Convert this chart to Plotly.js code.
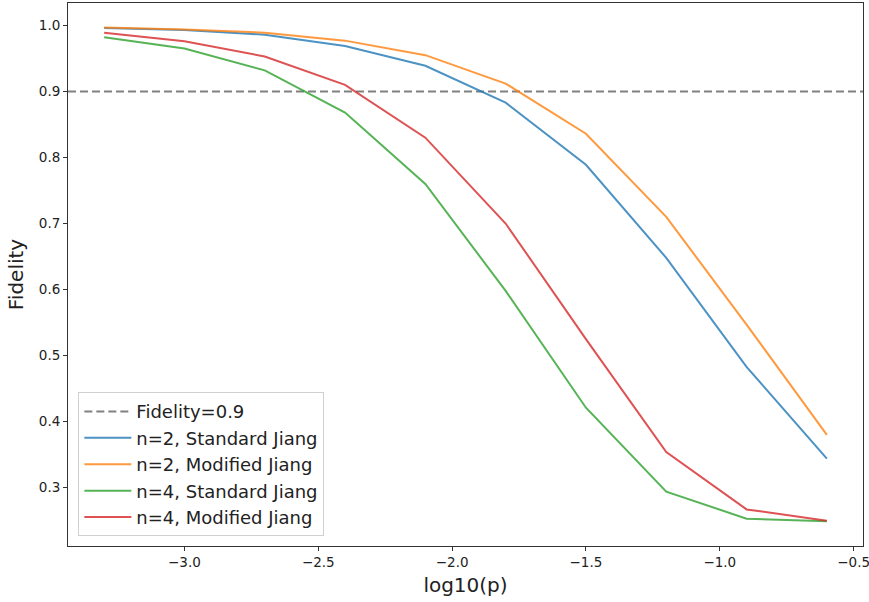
<!DOCTYPE html>
<html>
<head>
<meta charset="utf-8">
<script src="https://cdn.plot.ly/plotly-3.0.1.min.js"></script>
<style>html,body{margin:0;padding:0;background:#fff;}#chart{width:869px;height:602px;}</style>
</head>
<body>
<div id="chart"></div>
<script>
const log10p = [-3.3, -3.0, -2.7, -2.4, -2.1, -1.8, -1.5, -1.2, -0.9, -0.6];
const n2Standard = [0.996, 0.993, 0.986, 0.969, 0.939, 0.883, 0.789, 0.648, 0.483, 0.344];
const n2Modified = [0.997, 0.994, 0.989, 0.977, 0.955, 0.912, 0.836, 0.710, 0.547, 0.380];
const n4Standard = [0.982, 0.965, 0.932, 0.868, 0.760, 0.598, 0.421, 0.294, 0.253, 0.249];
const n4Modified = [0.989, 0.976, 0.953, 0.910, 0.830, 0.700, 0.525, 0.354, 0.267, 0.250];
const threshold = 0.9;
const xRange = [-3.435, -0.465];
const yRange = [0.2116, 1.034];

const seriesNames = ['n=2, Standard Jiang', 'n=2, Modified Jiang', 'n=4, Standard Jiang', 'n=4, Modified Jiang'];
const seriesValues = [n2Standard, n2Modified, n4Standard, n4Modified];
const colors = ['rgba(31,119,180,0.8)', 'rgba(255,127,14,0.8)', 'rgba(44,160,44,0.8)', 'rgba(214,39,40,0.8)'];

const traces = [{
  x: xRange, y: [threshold, threshold], mode: 'lines', name: 'Fidelity=' + threshold,
  legendgroup: 'g0',
  line: {color: 'grey', width: 2, dash: '8px,4px'}, hoverinfo: 'skip'
}];
seriesNames.forEach((nm, i) => {
  traces.push({x: log10p, y: seriesValues[i], mode: 'lines', name: nm, legendgroup: 'g' + (i + 1),
    line: {color: colors[i], width: 2}});
});

const axisCommon = {
  showgrid: false, zeroline: false, showline: true, mirror: true,
  linecolor: '#333', linewidth: 1, ticks: 'outside', ticklen: 4, tickcolor: '#333',
  tickfont: {family: 'DejaVu Sans', size: 13.5, color: '#222'}, tickformat: '.1f',
  ticklabeloverflow: 'allow'
};

const layout = {
  width: 869, height: 602,
  margin: {l: 68, r: 6, t: 3, b: 56},
  paper_bgcolor: '#fff', plot_bgcolor: '#fff',
  font: {family: 'DejaVu Sans', color: '#222'},
  showlegend: true,
  legend: {x: 0.013, y: 0.018, xanchor: 'left', yanchor: 'bottom',
    bordercolor: '#d0d0d0', borderwidth: 1, bgcolor: 'rgba(255,255,255,0.8)',
    font: {family: 'DejaVu Sans', size: 18, color: '#222'}, tracegroupgap: 0, itemwidth: 47},
  xaxis: Object.assign({}, axisCommon, {range: xRange, tickvals: [-3.0, -2.5, -2.0, -1.5, -1.0, -0.5],
    title: {text: 'log10(p)', font: {family: 'DejaVu Sans', size: 20, color: '#222'}, standoff: 8}}),
  yaxis: Object.assign({}, axisCommon, {range: yRange, tickvals: [0.3, 0.4, 0.5, 0.6, 0.7, 0.8, 0.9, 1.0],
    title: {text: 'Fidelity', font: {family: 'DejaVu Sans', size: 20, color: '#222'}, standoff: 9}})
};

Plotly.newPlot('chart', traces, layout, {displayModeBar: false, staticPlot: true});
</script>
</body>
</html>
